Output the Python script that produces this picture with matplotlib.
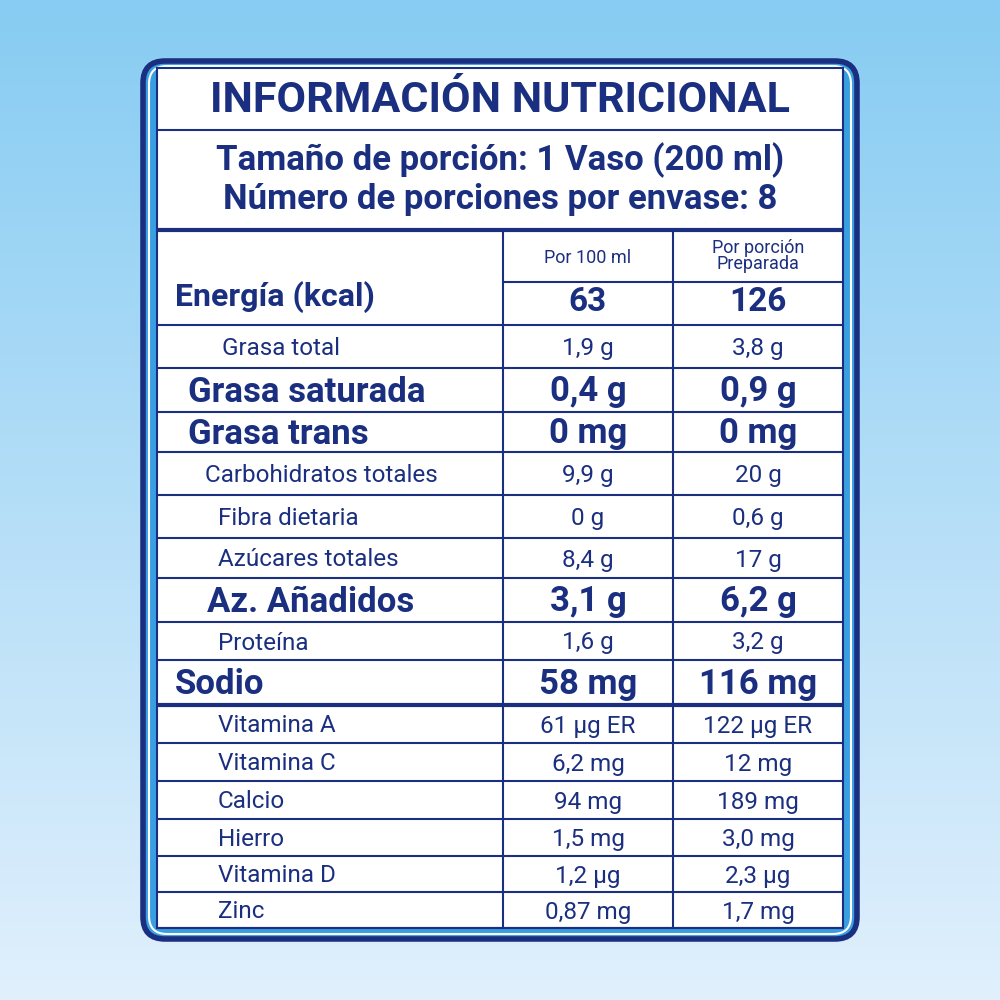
import matplotlib
matplotlib.use("Agg")
import matplotlib.pyplot as plt
import numpy as np
from matplotlib.patches import FancyBboxPatch, Rectangle
from matplotlib import font_manager

names = {f.name for f in font_manager.fontManager.ttflist}
FONT = "Liberation Sans Narrow" if "Liberation Sans Narrow" in names else "Roboto"
NAVY = "#1b2f80"

title = "INFORMACIÓN NUTRICIONAL"
serving = ["Tamaño de porción: 1 Vaso (200 ml)", "Número de porciones por envase: 8"]
col_heads = ["Por 100 ml", "Por porción\nPreparada"]
energy = ("Energía (kcal)", "63", "126")

nutrients = ["Grasa total", "Grasa saturada", "Grasa trans", "Carbohidratos totales",
             "Fibra dietaria", "Azúcares totales", "Az. Añadidos", "Proteína", "Sodio",
             "Vitamina A", "Vitamina C", "Calcio", "Hierro", "Vitamina D", "Zinc"]
per_100 = ["1,9 g", "0,4 g", "0 mg", "9,9 g", "0 g", "8,4 g", "3,1 g", "1,6 g", "58 mg",
           "61 µg ER", "6,2 mg", "94 mg", "1,5 mg", "1,2 µg", "0,87 mg"]
per_portion = ["3,8 g", "0,9 g", "0 mg", "20 g", "0,6 g", "17 g", "6,2 g", "3,2 g", "116 mg",
               "122 µg ER", "12 mg", "189 mg", "3,0 mg", "2,3 µg", "1,7 mg"]

# layout (pixels)
row_edges = [325, 368, 412, 452, 495, 538, 578, 622, 660, 705, 743, 781, 819, 856, 892, 928]
label_x = [222, 188, 188, 205, 218, 218, 207, 218, 175, 218, 218, 218, 218, 218, 218]
bold = [False, True, True, False, False, False, True, False, True] + [False] * 6
X0, X1, X2, X3 = 157, 503, 673, 843

fig = plt.figure(figsize=(10, 10), dpi=100)
ax = fig.add_axes([0, 0, 1, 1])
ax.set_xlim(0, 1000)
ax.set_ylim(1000, 0)
ax.axis("off")

grad = np.linspace(0, 1, 256)[:, None]
top, bot = np.array([0.53, 0.80, 0.95]), np.array([0.88, 0.94, 0.99])
img = top + (bot - top) * grad[..., None]
ax.imshow(np.repeat(img, 2, axis=1), extent=[0, 1000, 1000, 0], aspect="auto", zorder=0)

ax.add_patch(FancyBboxPatch((143, 61), 714, 878, boxstyle="round,pad=0,rounding_size=22",
                            fc="#3a9fe0", ec=NAVY, lw=4, zorder=1))
ax.add_patch(FancyBboxPatch((149, 66), 702, 868, boxstyle="round,pad=0,rounding_size=18",
                            fc="none", ec="white", lw=1.5, zorder=1))
ax.add_patch(Rectangle((X0, 68), X3 - X0, 928 - 68, fc="white", ec=NAVY, lw=1.5, zorder=2))

def hline(y, a=X0, b=X3, lw=1.5):
    ax.plot([a, b], [y, y], color=NAVY, lw=lw, zorder=3, solid_capstyle="butt")

hline(130)
hline(230, lw=3)
hline(282, X1, X3)
for y in row_edges:
    hline(y, lw=3 if y == 705 else 1.5)
for x in (X1, X2):
    ax.plot([x, x], [230, 928], color=NAVY, lw=1.5, zorder=3)

def txt(x, y, s, size, weight="normal", ha="center", ls=1.0):
    ax.text(x, y, s, fontsize=size, fontweight=weight, ha=ha, va="center", color=NAVY,
            family=FONT, linespacing=ls, zorder=4)

txt(500, 101, title, 31, "bold")
txt(500, 160, serving[0], 25, "bold")
txt(500, 200, serving[1], 25, "bold")
txt((X1 + X2) / 2, 258, col_heads[0], 13)
txt((X2 + X3) / 2, 256, col_heads[1], 13, ls=0.85)
txt(175, 297, energy[0], 23, "bold", ha="left")
txt((X1 + X2) / 2, 302, energy[1], 24, "bold")
txt((X2 + X3) / 2, 302, energy[2], 24, "bold")

for i, name in enumerate(nutrients):
    yc = (row_edges[i] + row_edges[i + 1]) / 2 + 2
    size = 25 if bold[i] else 17.5
    w = "bold" if bold[i] else "normal"
    txt(label_x[i], yc, name, size, w, ha="left")
    txt((X1 + X2) / 2, yc, per_100[i], size, w)
    txt((X2 + X3) / 2, yc, per_portion[i], size, w)

fig.savefig("out.png", dpi=100)
